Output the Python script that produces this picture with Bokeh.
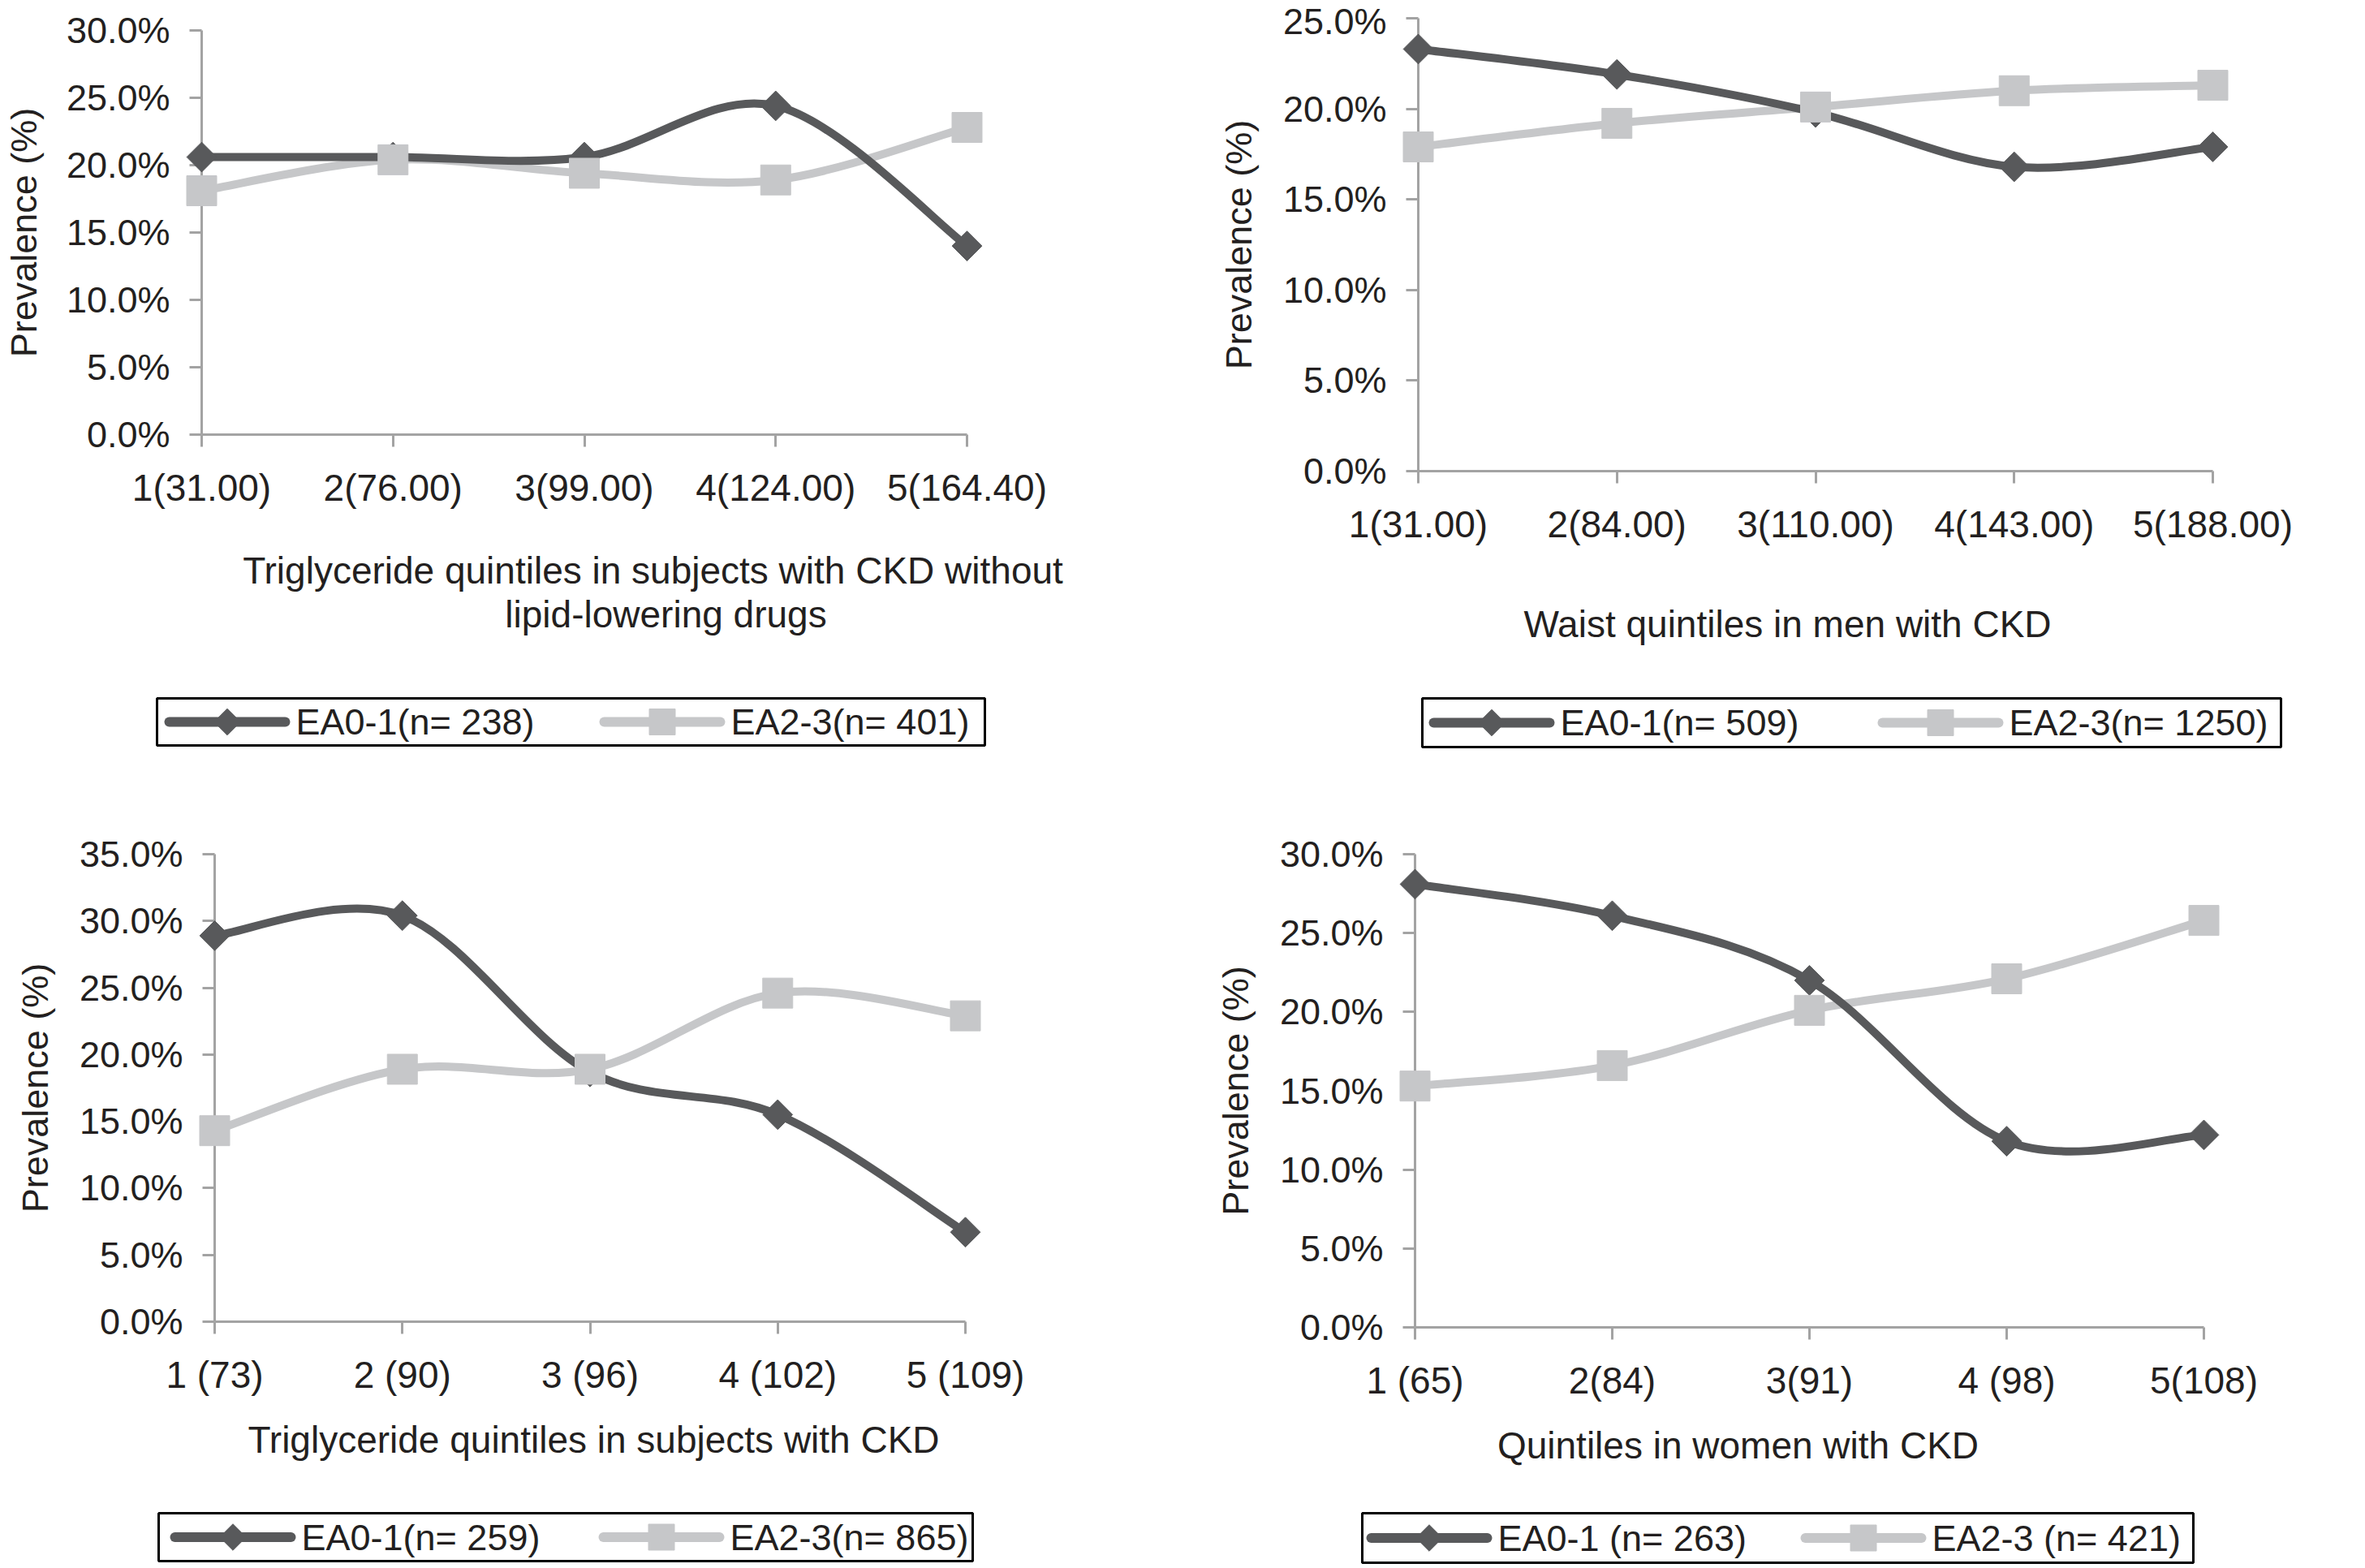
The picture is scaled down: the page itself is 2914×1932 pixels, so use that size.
import math

from bokeh.plotting import figure
from bokeh.layouts import column, row
from bokeh.models import ColumnDataSource, FixedTicker, PrintfTickFormatter, Label, Range1d
from bokeh.core.properties import value
from bokeh.embed import file_html
from bokeh.resources import INLINE

# quintile positions on the x axis
quintile = [1, 2, 3, 4, 5]

# top left: triglyceride quintiles, CKD without lipid-lowering drugs
tg_nodrug_labels = ["1(31.00)", "2(76.00)", "3(99.00)", "4(124.00)", "5(164.40)"]
tg_nodrug_ea01 = [20.6, 20.6, 20.6, 24.4, 14.0]
tg_nodrug_ea23 = [18.1, 20.4, 19.4, 18.9, 22.8]

# top right: waist quintiles, men with CKD
waist_men_labels = ["1(31.00)", "2(84.00)", "3(110.00)", "4(143.00)", "5(188.00)"]
waist_men_ea01 = [23.3, 21.9, 19.8, 16.8, 17.9]
waist_men_ea23 = [17.9, 19.2, 20.1, 21.0, 21.3]

# bottom left: triglyceride quintiles, subjects with CKD
tg_ckd_labels = ["1 (73)", "2 (90)", "3 (96)", "4 (102)", "5 (109)"]
tg_ckd_ea01 = [28.9, 30.4, 18.7, 15.5, 6.7]
tg_ckd_ea23 = [14.3, 18.9, 18.9, 24.6, 22.9]

# bottom right: quintiles, women with CKD
women_labels = ["1 (65)", "2(84)", "3(91)", "4 (98)", "5(108)"]
women_ea01 = [28.1, 26.1, 22.0, 11.8, 12.2]
women_ea23 = [15.3, 16.6, 20.1, 22.1, 25.8]

FONT = "Liberation Sans"
TEXT = "#231f20"
AXIS = "#a3a3a3"
DARK = "#58595b"
LIGHT = "#c6c7c9"
LINE_W = 10
TILT = math.pi / 4  # diamonds are squares turned by 45 degrees


def smooth(xs, ys):
    # excel-style smoothed line: one cubic bezier per pair of points
    px = [xs[0]] + list(xs) + [xs[-1]]
    py = [ys[0]] + list(ys) + [ys[-1]]
    d = dict(x0=[], y0=[], x1=[], y1=[], cx0=[], cy0=[], cx1=[], cy1=[])
    for j in range(1, len(xs)):
        d["x0"].append(px[j]); d["y0"].append(py[j])
        d["x1"].append(px[j + 1]); d["y1"].append(py[j + 1])
        d["cx0"].append(px[j] + (px[j + 1] - px[j - 1]) / 6)
        d["cy0"].append(py[j] + (py[j + 1] - py[j - 1]) / 6)
        d["cx1"].append(px[j + 1] - (px[j + 2] - px[j]) / 6)
        d["cy1"].append(py[j + 1] - (py[j + 2] - py[j]) / 6)
    return ColumnDataSource(d)


def chart(labels, ea01, ea23, ymax, w, frame_top, frame_bottom, left, right, ylabel_standoff):
    h = frame_bottom + 110
    p = figure(width=w, height=h, x_range=Range1d(1, 5), y_range=Range1d(0, ymax),
               output_backend="svg", toolbar_location=None, frame_align=False,
               min_border_left=left, min_border_right=right,
               min_border_top=frame_top, min_border_bottom=110)
    p.outline_line_color = None
    p.xgrid.visible = False
    p.ygrid.visible = False

    ya = p.yaxis[0]
    ya.ticker = FixedTicker(ticks=list(range(0, ymax + 1, 5)))
    ya.formatter = PrintfTickFormatter(format="%.1f%%")
    ya.axis_label = "Prevalence (%)"
    ya.axis_label_text_font = FONT
    ya.axis_label_text_font_style = "normal"
    ya.axis_label_text_font_size = "45px"
    ya.axis_label_text_color = TEXT
    ya.axis_label_standoff = ylabel_standoff
    ya.major_label_text_font_size = "45px"

    xa = p.xaxis[0]
    xa.ticker = FixedTicker(ticks=quintile)
    xa.major_label_overrides = dict(zip(quintile, labels))
    xa.major_label_text_font_size = "46px"

    for ax in (xa, ya):
        ax.axis_line_color = AXIS
        ax.axis_line_width = 3
        ax.major_tick_line_color = AXIS
        ax.major_tick_line_width = 3
        ax.major_tick_out = 15
        ax.major_tick_in = 0
        ax.minor_tick_line_color = None
        ax.major_label_text_font = FONT
        ax.major_label_text_color = TEXT
        ax.major_label_standoff = 24

    for ys, color in ((ea23, LIGHT), (ea01, DARK)):
        p.bezier(source=smooth(quintile, ys), x0="x0", y0="y0", x1="x1", y1="y1",
                 cx0="cx0", cy0="cy0", cx1="cx1", cy1="cy1",
                 line_color=color, line_width=LINE_W, line_cap="round", level="overlay")
    p.scatter(quintile, ea01, marker="square", angle=TILT, size=26,
              fill_color=DARK, line_color=DARK, level="overlay")
    p.scatter(quintile, ea23, marker="square", size=37,
              fill_color=LIGHT, line_color=LIGHT, level="overlay")
    return p


def footer(w, h, titles, box, items):
    # area under a chart: axis title lines and the boxed legend (pixel coordinates,
    # distances measured down from the top of this area)
    f = figure(width=w, height=h, x_range=Range1d(0, w), y_range=Range1d(0, h),
               x_axis_type=None, y_axis_type=None, output_backend="svg",
               toolbar_location=None, min_border=0, frame_align=False)
    f.outline_line_color = None
    f.xgrid.visible = False
    f.ygrid.visible = False
    for text, cx, cy in titles:
        f.add_layout(Label(x=cx, y=h - cy, text=text, text_align="center",
                           text_baseline="middle", text_font=FONT, text_font_size="46px",
                           text_color=TEXT))

    left, right, top, bottom = box
    f.quad(left=[left], right=[right], top=[h - top], bottom=[h - bottom],
           fill_color="white", line_color="black", line_width=3)
    yc = h - (top + bottom) / 2
    for x0, label, color, angle, size in items:
        f.segment(x0=[x0], y0=[yc], x1=[x0 + 143], y1=[yc], line_color=color,
                  line_width=12, line_cap="round")
        f.scatter([x0 + 71.5], [yc], marker="square", angle=angle, size=size,
                  fill_color=color, line_color=color)
        f.text(x=[x0 + 156], y=[yc], text=[label], text_baseline="middle",
               text_font=value(FONT), text_font_size="45px", text_color=TEXT)
    return f


def entries(x_dark, label_dark, x_light, label_light):
    return [(x_dark, label_dark, DARK, TILT, 23),
            (x_light, label_light, LIGHT, 0, 32)]


p1 = chart(tg_nodrug_labels, tg_nodrug_ea01, tg_nodrug_ea23, 30, 1431, 37, 535, 244, 240, 24)
f1 = footer(1431, 975 - 645,
            [("Triglyceride quintiles in subjects with CKD without", 804, 57),
             ("lipid-lowering drugs", 820, 111)],
            (193, 1213, 215, 273), entries(208, "EA0-1(n= 238)", 744, "EA2-3(n= 401)"))

p2 = chart(waist_men_labels, waist_men_ea01, waist_men_ea23, 25, 1481, 22, 580, 316, 186, 26)
f2 = footer(1481, 975 - 690, [("Waist quintiles in men with CKD", 771, 78)],
            (321, 1379, 170, 230), entries(335, "EA0-1(n= 509)", 888, "EA2-3(n= 1250)"))

p3 = chart(tg_ckd_labels, tg_ckd_ea01, tg_ckd_ea23, 35, 1431, 77, 653, 264, 242, 26)
f3 = footer(1431, 955 - 763, [("Triglyceride quintiles in subjects with CKD", 731, 35)],
            (195, 1198, 126, 185), entries(215, "EA0-1(n= 259)", 743, "EA2-3(n= 865)"))

p4 = chart(women_labels, women_ea01, women_ea23, 30, 1481, 77, 660, 312, 197, 26)
f4 = footer(1481, 955 - 770, [("Quintiles in women with CKD", 710, 35)],
            (247, 1271, 119, 180), entries(258, "EA0-1 (n= 263)", 793, "EA2-3 (n= 421)"))

layout = column(row(column(p1, f1), column(p2, f2)), row(column(p3, f3), column(p4, f4)))
open("out.html", "w").write(file_html(layout, INLINE))
